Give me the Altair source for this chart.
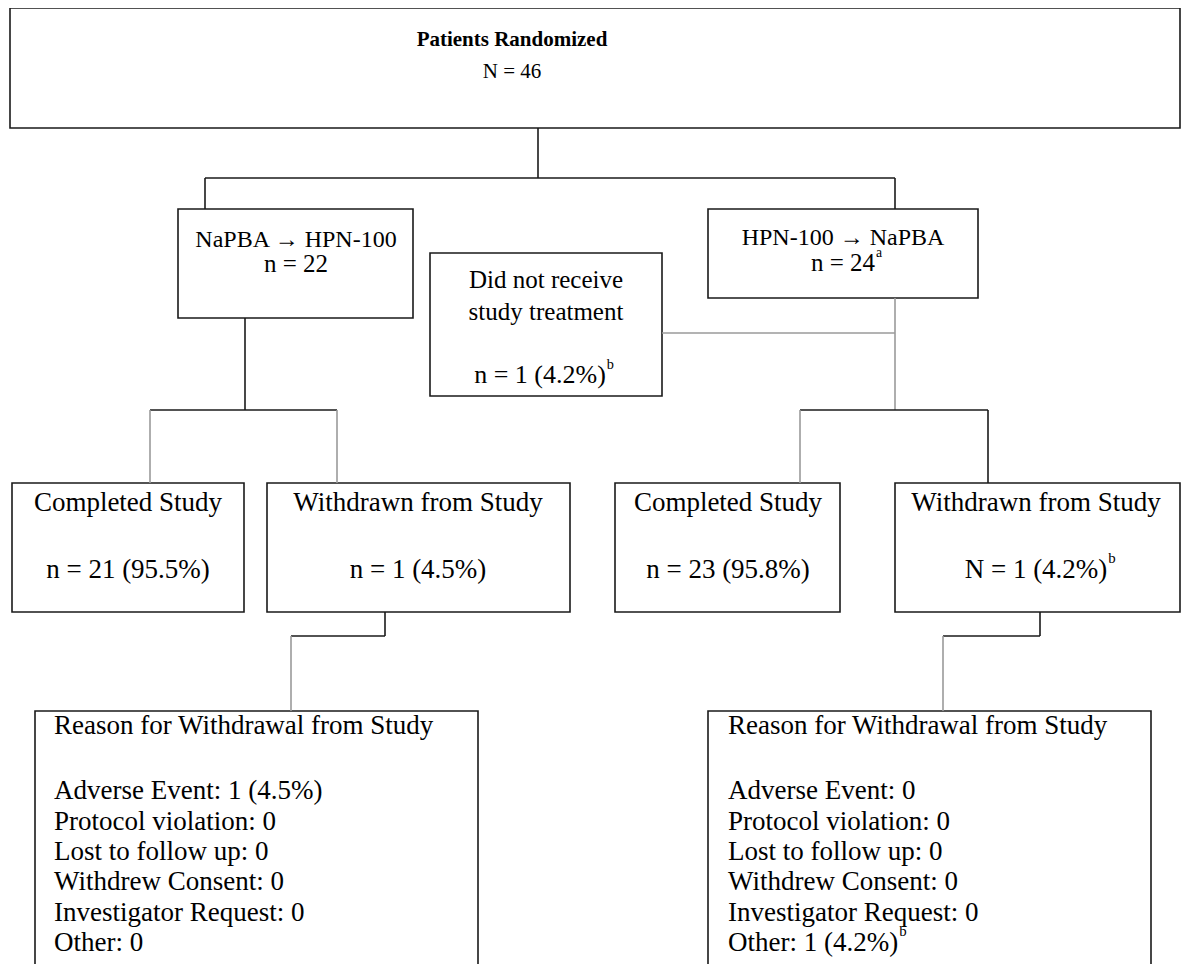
import altair as alt
import pandas as pd

# ---------------- content ----------------
top_title = "Patients Randomized"
top_n = "N = 46"
arm_labels = ["NaPBA \u2192 HPN-100", "HPN-100 \u2192 NaPBA"]
arm_n = ["n = 22", "n = 24"]
excluded_lines = ["Did not receive", "study treatment"]
excluded_n = "n = 1 (4.2%)"
outcome_labels = ["Completed Study", "Withdrawn from Study", "Completed Study", "Withdrawn from Study"]
outcome_n = ["n = 21 (95.5%)", "n = 1 (4.5%)", "n = 23 (95.8%)", "N = 1 (4.2%)"]
reason_title = "Reason for Withdrawal from Study"
reason_items = ["Adverse Event", "Protocol violation", "Lost to follow up",
                "Withdrew Consent", "Investigator Request", "Other"]
reason_left = ["1 (4.5%)", "0", "0", "0", "0", "0"]
reason_right = ["0", "0", "0", "0", "0", "1 (4.2%)"]
sup_marks = ["a", "b", "b", "b"]

# ---------------- styling / layout (page pixels) ----------------
FONT = "Liberation Serif"
FS_TOP, FS_ARM, FS_ARM_N, FS_MID, FS_MID_N, FS_BOT = 21, 24, 25, 25, 26, 27

# Times-compatible advance widths (per 1000 em) for superscript placement
W = {"n": 500, " ": 250, "=": 564, "(": 333, ")": 333, ".": 250, "%": 833, "N": 722,
     "O": 722, "t": 278, "h": 500, "e": 444, "r": 333, ":": 278}
def tw(s, fs):
    return sum(W.get(ch, 500) for ch in s) * fs / 1000.0

boxes = pd.DataFrame([
    dict(x=10, x2=1180, y=8, y2=128),      # randomized
    dict(x=178, x2=413, y=209, y2=318),    # arm 1
    dict(x=708, x2=978, y=209, y2=298),    # arm 2
    dict(x=430, x2=662, y=253, y2=396),    # not treated
    dict(x=12, x2=244, y=483, y2=612),
    dict(x=267, x2=570, y=483, y2=612),
    dict(x=615, x2=840, y=483, y2=612),
    dict(x=895, x2=1180, y=483, y2=612),
    dict(x=35, x2=478, y=711, y2=1000),
    dict(x=708, x2=1151, y=711, y2=1000),
])

K, G = "#1a1a1a", "#9a9a9a"
lines = pd.DataFrame([
    dict(x=538, x2=538, y=128, y2=178, c=K),
    dict(x=205, x2=895, y=178, y2=178, c=K),
    dict(x=205, x2=205, y=178, y2=209, c=K),
    dict(x=895, x2=895, y=178, y2=209, c=K),
    dict(x=662, x2=895, y=333, y2=333, c=G),
    dict(x=895, x2=895, y=298, y2=410, c=G),
    dict(x=245, x2=245, y=318, y2=410, c=K),
    dict(x=150, x2=337, y=410, y2=410, c=K),
    dict(x=150, x2=150, y=410, y2=483, c=G),
    dict(x=337, x2=337, y=410, y2=483, c=G),
    dict(x=800, x2=988, y=410, y2=410, c=K),
    dict(x=800, x2=800, y=410, y2=483, c=G),
    dict(x=988, x2=988, y=410, y2=483, c=K),
    dict(x=385, x2=385, y=612, y2=636, c=K),
    dict(x=291, x2=385, y=636, y2=636, c=K),
    dict(x=291, x2=291, y=636, y2=711, c=G),
    dict(x=1040, x2=1040, y=612, y2=636, c=K),
    dict(x=943, x2=1040, y=636, y2=636, c=K),
    dict(x=943, x2=943, y=636, y2=711, c=G),
])

out_cx = [128, 418, 728, 1036]
center_text = pd.DataFrame(
    [dict(x=512, y=72, t=top_n, fs=FS_TOP),
     dict(x=296, y=240, t=arm_labels[0], fs=FS_ARM), dict(x=296, y=264, t=arm_n[0], fs=FS_ARM_N),
     dict(x=843, y=238, t=arm_labels[1], fs=FS_ARM), dict(x=843, y=263, t=arm_n[1], fs=FS_ARM_N),
     dict(x=546, y=280, t=excluded_lines[0], fs=FS_MID), dict(x=546, y=312, t=excluded_lines[1], fs=FS_MID),
     dict(x=540, y=375, t=excluded_n, fs=FS_MID_N)]
    + [dict(x=cx, y=503, t=lab, fs=FS_BOT) for cx, lab in zip(out_cx, outcome_labels)]
    + [dict(x=cx, y=570, t=n, fs=FS_BOT) for cx, n in zip(out_cx, outcome_n)]
)
title_text = pd.DataFrame([dict(x=512, y=40, t=top_title, fs=FS_TOP)])

item_y = [791, 822, 852, 882, 913, 943]
left_text = pd.DataFrame(
    [dict(x=54, y=726, t=reason_title, fs=FS_BOT), dict(x=728, y=726, t=reason_title, fs=FS_BOT)]
    + [dict(x=54, y=yy, t=f"{it}: {v}", fs=FS_BOT) for yy, it, v in zip(item_y, reason_items, reason_left)]
    + [dict(x=728, y=yy, t=f"{it}: {v}", fs=FS_BOT) for yy, it, v in zip(item_y, reason_items, reason_right)]
)

other_line = f"{reason_items[5]}: {reason_right[5]}"
sup_text = pd.DataFrame([
    dict(x=843 + tw(arm_n[1], FS_ARM_N) / 2 + 1, y=263 - 0.4 * FS_ARM_N, t=sup_marks[0], fs=0.55 * FS_ARM_N),
    dict(x=540 + tw(excluded_n, FS_MID_N) / 2 + 1, y=375 - 0.4 * FS_MID_N, t=sup_marks[1], fs=0.55 * FS_MID_N),
    dict(x=out_cx[3] + tw(outcome_n[3], FS_BOT) / 2 + 1, y=570 - 0.4 * FS_BOT, t=sup_marks[2], fs=0.55 * FS_BOT),
    dict(x=728 + tw(other_line, FS_BOT) + 1, y=943 - 0.4 * FS_BOT, t=sup_marks[3], fs=0.55 * FS_BOT),
])

X = alt.X("x:Q", scale=alt.Scale(domain=[8, 1184]), axis=None)
Y = alt.Y("y:Q", scale=alt.Scale(domain=[8, 964], reverse=True), axis=None)
SIZE = alt.Size("fs:Q", scale=None)

rects = alt.Chart(boxes).mark_rect(fill="white", stroke="#1a1a1a", strokeWidth=1.6, clip=True).encode(
    x=X, x2="x2:Q", y=Y, y2="y2:Q")
rules = alt.Chart(lines).mark_rule(strokeWidth=1.6).encode(
    x=X, x2="x2:Q", y=Y, y2="y2:Q", color=alt.Color("c:N", scale=None))
ctext = alt.Chart(center_text).mark_text(font=FONT, align="center", baseline="middle", color="black").encode(
    x=X, y=Y, text="t:N", size=SIZE)
ttext = alt.Chart(title_text).mark_text(font=FONT, fontWeight="bold", align="center", baseline="middle", color="black").encode(
    x=X, y=Y, text="t:N", size=SIZE)
ltext = alt.Chart(left_text).mark_text(font=FONT, align="left", baseline="middle", color="black").encode(
    x=X, y=Y, text="t:N", size=SIZE)
stext = alt.Chart(sup_text).mark_text(font=FONT, align="left", baseline="middle", color="black").encode(
    x=X, y=Y, text="t:N", size=SIZE)

chart = alt.layer(rects, rules, ctext, ttext, ltext, stext).properties(
    width=1176, height=956, padding=0
).configure_view(stroke=None)

chart.save("out.html", embed_options={"renderer": "svg", "actions": False})
